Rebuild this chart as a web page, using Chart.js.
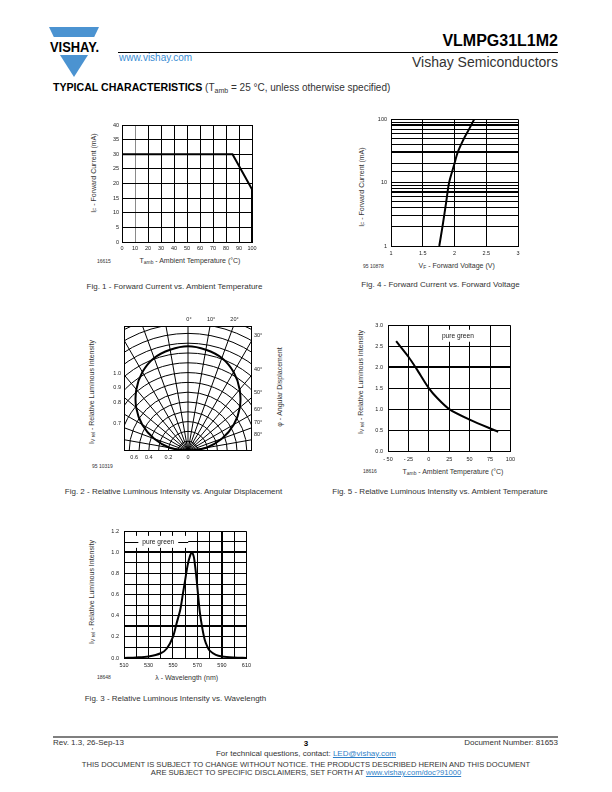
<!DOCTYPE html>
<html><head><meta charset="utf-8">
<script src="https://cdn.jsdelivr.net/npm/chart.js@4.4.1/dist/chart.umd.min.js"></script>
<style>
body{margin:0;background:#fff;}
#page{position:relative;width:612px;height:792px;overflow:hidden;font-family:"Liberation Sans",Arial,sans-serif;color:#000;}
.t{position:absolute;white-space:nowrap;line-height:1;font-weight:400;}
.g{color:#333;}
.c{transform:translateX(-50%);}
.r{transform:translateX(-100%);}
.rot{transform:translate(-50%,-50%) rotate(-90deg);}
canvas{position:absolute;}
.sb{font-size:70%;vertical-align:-0.3em;line-height:0;}
a{color:#2f7fc8;text-decoration:underline;}
</style></head>
<body>
<div id="page">
<svg width="612" height="792" style="position:absolute;left:0;top:0">
 <polygon points="49,27 99,27 94.2,37 53.8,37" fill="#4b93d1"/>
 <polygon points="60,55 88,55 74,77" fill="#4b93d1"/>
 <text x="50" y="52" font-family="Liberation Sans" font-weight="bold" font-size="14" textLength="49" lengthAdjust="spacingAndGlyphs">VISHAY.</text>
 <line x1="118" y1="52.5" x2="558" y2="52.5" stroke="#000" stroke-width="1"/>
 <line x1="53" y1="737" x2="558" y2="737" stroke="#000" stroke-width="1.2"/>
</svg>

<div class="t" style="right:54px;top:33px;font-size:16px;font-weight:bold;">VLMPG31L1M2</div>
<div class="t g" style="right:54px;top:55px;font-size:14px;">Vishay Semiconductors</div>
<div class="t" style="left:119px;top:53px;font-size:10px;color:#3a8dd4;">www.vishay.com</div>
<div class="t" style="left:53px;top:82px;font-size:10px;"><b style="font-size:10.6px;">TYPICAL CHARACTERISTICS</b> <span class="g">(T<span class="sb">amb</span> = 25 °C, unless otherwise specified)</span></div>

<!-- Fig 1 texts -->
<div class="t c g" style="left:190px;top:256.5px;font-size:7px;">T<span class="sb">amb</span> - Ambient Temperature (°C)</div>
<div class="t rot g" style="left:92.7px;top:173px;font-size:7px;">I<span class="sb">F</span> - Forward Current (mA)</div>
<div class="t g" style="left:97px;top:258.5px;font-size:5px;">16615</div>
<div class="t c g" style="left:174.5px;top:283px;font-size:8px;">Fig. 1 - Forward Current vs. Ambient Temperature</div>

<!-- Fig 4 texts -->
<div class="t c g" style="left:456.7px;top:261.5px;font-size:7px;">V<span class="sb">F</span> - Forward Voltage (V)</div>
<div class="t rot g" style="left:361px;top:187px;font-size:7px;">I<span class="sb">F</span> - Forward Current (mA)</div>
<div class="t g" style="left:363px;top:263.5px;font-size:5px;">95 10878</div>
<div class="t c g" style="left:440.5px;top:281px;font-size:8px;">Fig. 4 - Forward Current vs. Forward Voltage</div>

<!-- Fig 2 texts -->
<div class="t rot g" style="left:90.7px;top:391.7px;font-size:7px;">I<span class="sb">V rel</span> - Relative Luminous Intensity</div>
<div class="t rot g" style="left:279px;top:386.7px;font-size:7px;">φ - Angular Displacement</div>
<div class="t g" style="left:92px;top:463.5px;font-size:5px;">95 10319</div>
<div class="t c g" style="left:173.5px;top:488px;font-size:8px;">Fig. 2 - Relative Luminous Intensity vs. Angular Displacement</div>

<!-- Fig 5 texts -->
<div class="t c g" style="left:453px;top:468.2px;font-size:7px;">T<span class="sb">amb</span> - Ambient Temperature (°C)</div>
<div class="t rot g" style="left:360px;top:382px;font-size:7px;">I<span class="sb">V rel</span> - Relative Luminous Intensity</div>
<div class="t g" style="left:363px;top:468.5px;font-size:5px;">18616</div>
<div class="t c g" style="left:440px;top:488px;font-size:8px;">Fig. 5 - Relative Luminous Intensity vs. Ambient Temperature</div>

<!-- Fig 3 texts -->
<div class="t c g" style="left:186.7px;top:674.2px;font-size:7px;">λ - Wavelength (nm)</div>
<div class="t rot g" style="left:91px;top:592px;font-size:7px;">I<span class="sb">V rel</span> - Relative Luminous Intensity</div>
<div class="t g" style="left:97px;top:674.5px;font-size:5px;">18648</div>
<div class="t c g" style="left:175.5px;top:695px;font-size:8px;">Fig. 3 - Relative Luminous Intensity vs. Wavelength</div>

<!-- Footer -->
<div class="t g" style="left:53px;top:739px;font-size:8px;">Rev. 1.3, 26-Sep-13</div>
<div class="t c" style="left:306px;top:740px;font-size:8px;font-weight:bold;">3</div>
<div class="t g" style="right:54px;top:739px;font-size:8px;">Document Number: 81653</div>
<div class="t c g" style="left:306px;top:750px;font-size:8px;">For technical questions, contact: <a>LED@vishay.com</a></div>
<div class="t c g" style="left:306px;top:761px;font-size:7.6px;">THIS DOCUMENT IS SUBJECT TO CHANGE WITHOUT NOTICE. THE PRODUCTS DESCRIBED HEREIN AND THIS DOCUMENT</div>
<div class="t c g" style="left:306px;top:769px;font-size:7.6px;">ARE SUBJECT TO SPECIFIC DISCLAIMERS, SET FORTH AT <a>www.vishay.com/doc?91000</a></div>

<canvas id="fig1" width="165" height="137" style="left:95px;top:118px;"></canvas>
<canvas id="fig4" width="168" height="146" style="left:358px;top:112px;"></canvas>
<canvas id="fig2" width="215" height="165" style="left:85px;top:310px;"></canvas>
<canvas id="fig5" width="165" height="148" style="left:355px;top:317px;"></canvas>
<canvas id="fig3" width="160" height="148" style="left:95px;top:523px;"></canvas>
</div>

<script>
// ---------- DATA ----------
// Fig. 1 - Forward current vs. ambient temperature
const fig1Temp = [0, 85, 100, 100];
const fig1Current = [30, 30, 18, 0];

// Fig. 4 - Forward current vs. forward voltage
const fig4Voltage = [1.76, 1.81, 1.87, 1.915, 2.0, 2.05, 2.15, 2.23, 2.31];
const fig4Current = [1, 2, 5, 10, 20, 30, 50, 70, 100];
const fig4YLabels = [1, 10, 100];
const fig4XLabels = ['1', '1.5', '2', '2.5', '3'];

// Fig. 2 - Relative luminous intensity vs. angular displacement
const fig2Angles = [-90, -80, -70, -60, -50, -40, -30, -20, -10, 0, 10, 20, 30, 40, 50, 60, 70, 80, 90];
const fig2Intensity = [0, 0.19, 0.37, 0.54, 0.69, 0.82, 0.93, 1.01, 1.05, 1.07, 1.05, 1.01, 0.93, 0.82, 0.69, 0.54, 0.37, 0.19, 0];
const fig2Rings = [0.1, 0.2, 0.3, 0.4, 0.5, 0.6, 0.7, 0.8, 0.9, 1.0, 1.1, 1.2, 1.3, 1.4, 1.5];
const fig2Spokes = [-90, -80, -70, -60, -50, -40, -30, -20, -10, 0, 10, 20, 30, 40, 50, 60, 70, 80, 90];
const fig2RingLabels = [1.0, 0.9, 0.8, 0.7];
const fig2BottomLabels = [0.6, 0.4, 0.2, 0];
const fig2AngleLabels = [0, 10, 20, 30, 40, 50, 60, 70, 80];

// Fig. 5 - Relative luminous intensity vs. ambient temperature
const fig5Temp = [-40, -25, -15, 0, 10, 25, 50, 85];
const fig5Intensity = [2.62, 2.25, 1.96, 1.5, 1.27, 1.0, 0.75, 0.46];
const fig5XLabels = ['- 50', '- 25', '0', '25', '50', '75', '100'];

// Fig. 3 - Relative luminous intensity vs. wavelength
const fig3Wavelength = [510, 520, 530, 540, 545, 550, 553, 556, 558, 560, 562, 564, 565.5, 567, 568, 569, 570, 571, 572, 574, 576, 578, 580, 585, 590, 600, 610];
const fig3Intensity = [0, 0.005, 0.015, 0.045, 0.09, 0.2, 0.33, 0.46, 0.6, 0.74, 0.88, 0.97, 1.0, 0.96, 0.88, 0.78, 0.66, 0.54, 0.43, 0.28, 0.17, 0.11, 0.07, 0.03, 0.015, 0.005, 0];
const fig3XLabels = [510, 530, 550, 570, 590, 610];

const seriesLabel = 'pure green';

// ---------- HELPERS ----------
Chart.defaults.font.family = '"Liberation Sans", Arial, sans-serif';
Chart.defaults.color = '#000';
const TICK_FONT = {size: 5.5};
const near = (a, b) => Math.abs(a - b) < 1e-6;

function axis(o) {
  return {
    type: o.type || 'linear', min: o.min, max: o.max,
    ticks: {stepSize: o.step, autoSkip: false, maxRotation: 0, padding: o.pad, font: TICK_FONT, color: '#222',
            callback: o.cb, includeBounds: true},
    grid: {color: o.gridColor || '#000', lineWidth: o.gridWidth || 1, drawTicks: false},
    border: {display: true, color: '#000', width: 1},
    afterFit: s => { if (s.isHorizontal()) s.height = o.size; else s.width = o.size; }
  };
}
function lineDS(xs, ys, tension) {
  return {data: xs.map((x, i) => ({x, y: ys[i]})), borderColor: '#000', borderWidth: 2,
          pointRadius: 0, showLine: true, tension: tension || 0, fill: false};
}
const baseOpts = (pad) => ({
  responsive: false, animation: false, events: [],
  layout: {padding: pad},
  plugins: {legend: {display: false}, tooltip: {enabled: false}}
});
function boxLabel(xv, yv, coverLine) {
  return {
    id: 'boxLabel',
    beforeDatasetsDraw(chart) {
      const {ctx, chartArea: a, scales: {x, y}} = chart;
      ctx.save();
      ctx.font = '6.6px "Liberation Sans", Arial, sans-serif';
      const w = ctx.measureText(seriesLabel).width;
      const px = x.getPixelForValue(xv), py = y.getPixelForValue(yv);
      ctx.fillStyle = '#fff';
      if (coverLine) {
        const L = a.left + 1, R = px + w / 2 + 14;
        ctx.fillRect(L, py - 6, R - L, 12);
        ctx.strokeStyle = '#000'; ctx.lineWidth = 1;
        ctx.beginPath(); ctx.moveTo(L, Math.round(py) + 0.5); ctx.lineTo(R, Math.round(py) + 0.5); ctx.stroke();
        ctx.fillRect(px - w / 2 - 4, py - 5, w + 8, 10);
      } else {
        ctx.fillRect(px - w / 2 - 3, py - 6, w + 6, 12);
      }
      ctx.fillStyle = '#222'; ctx.textAlign = 'center'; ctx.textBaseline = 'middle';
      ctx.fillText(seriesLabel, px, py);
      ctx.restore();
    }
  };
}

// ---------- FIG 1 ----------
new Chart(document.getElementById('fig1'), {
  type: 'scatter',
  data: {datasets: [lineDS(fig1Temp, fig1Current)]},
  options: Object.assign(baseOpts({left: 0, top: 7, right: 8, bottom: 0}), {
    scales: {
      x: axis({min: 0, max: 100, step: 10, pad: 3, size: 13,
               gridColor: c => (c.tick && c.tick.value === 10) ? '#8a8a8a' : '#000'}),
      y: axis({min: 0, max: 40, step: 5, pad: 3, size: 27})
    }
  })
});

// ---------- FIG 4 ----------
new Chart(document.getElementById('fig4'), {
  type: 'scatter',
  data: {datasets: [lineDS(fig4Voltage, fig4Current, 0.3)]},
  options: Object.assign(baseOpts({left: 0, top: 7, right: 8, bottom: 0}), {
    scales: {
      x: axis({min: 1, max: 3, step: 0.5, pad: 4, size: 12, cb: (v, i) => fig4XLabels[i]}),
      y: axis({type: 'logarithmic', min: 1, max: 100, pad: 4, size: 33,
               cb: v => fig4YLabels.includes(v) ? String(v) : '',
               gridWidth: c => (c.tick && [7, 30, 80].includes(c.tick.value)) ? 2 : 1})
    }
  })
});

// ---------- FIG 2 (polar) ----------
const polarPlugin = {
  id: 'polar',
  beforeDatasetsDraw(chart) {
    const {ctx, chartArea: a, scales: {x, y}} = chart;
    const cx = x.getPixelForValue(0), cy = y.getPixelForValue(0);
    const unit = x.getPixelForValue(1) - cx;
    ctx.save();
    ctx.beginPath(); ctx.rect(a.left, a.top, a.width, a.height); ctx.clip();
    ctx.strokeStyle = '#000'; ctx.lineWidth = 1;
    fig2Rings.forEach(r => { ctx.beginPath(); ctx.arc(cx, cy, r * unit, Math.PI, 2 * Math.PI); ctx.stroke(); });
    fig2Spokes.forEach(d => {
      const t = d * Math.PI / 180;
      ctx.beginPath(); ctx.moveTo(cx, cy);
      ctx.lineTo(cx + Math.sin(t) * 3 * unit, cy - Math.cos(t) * 3 * unit); ctx.stroke();
    });
    ctx.restore();
    ctx.save(); ctx.strokeStyle = '#000'; ctx.lineWidth = 1;
    ctx.strokeRect(Math.round(a.left) + 0.5, Math.round(a.top) + 0.5, Math.round(a.width) - 1, Math.round(a.height) - 1);
    ctx.restore();
  },
  afterDraw(chart) {
    const {ctx, chartArea: a, scales: {x, y}} = chart;
    ctx.save();
    ctx.font = '5.5px "Liberation Sans", Arial, sans-serif';
    ctx.fillStyle = '#222';
    ctx.textAlign = 'right'; ctx.textBaseline = 'middle';
    fig2RingLabels.forEach(v => {
      const h = Math.sqrt(v * v - x.min * x.min);
      ctx.fillText(v.toFixed(1), a.left - 3, y.getPixelForValue(h) - 3);
    });
    ctx.textAlign = 'center'; ctx.textBaseline = 'top';
    fig2BottomLabels.forEach(v => ctx.fillText(v === 0 ? '0' : v.toFixed(1), x.getPixelForValue(-v) + (v > 0.5 ? 5 : 0), a.bottom + 4));
    fig2AngleLabels.forEach(d => {
      const t = d * Math.PI / 180, s = Math.sin(t), c = Math.cos(t);
      const sTop = c > 1e-9 ? y.max / c : Infinity;
      const sRight = s > 1e-9 ? x.max / s : Infinity;
      if (sTop <= sRight) {
        ctx.textAlign = 'center'; ctx.textBaseline = 'bottom';
        ctx.fillText(d + '°', x.getPixelForValue(sTop * s) + 1, a.top - 4);
      } else {
        ctx.textAlign = 'left'; ctx.textBaseline = 'middle';
        const py = Math.max(a.top + 2, y.getPixelForValue(sRight * c) - 5);
        ctx.fillText(d + '°', a.right + 2, py);
      }
    });
    ctx.restore();
  }
};
const fig2Points = fig2Angles.map((d, i) => ({
  x: fig2Intensity[i] * Math.sin(d * Math.PI / 180),
  y: fig2Intensity[i] * Math.cos(d * Math.PI / 180)
}));
new Chart(document.getElementById('fig2'), {
  type: 'scatter',
  data: {datasets: [{data: fig2Points, borderColor: '#000', borderWidth: 2, pointRadius: 0, showLine: true, tension: 0.4, fill: false}]},
  options: Object.assign(baseOpts({left: 39, top: 16, right: 48, bottom: 24}), {
    scales: {
      x: {type: 'linear', display: false, min: -0.653, max: 0.653},
      y: {type: 'linear', display: false, min: 0, max: 1.276}
    }
  }),
  plugins: [polarPlugin]
});

// ---------- FIG 5 ----------
new Chart(document.getElementById('fig5'), {
  type: 'scatter',
  data: {datasets: [lineDS(fig5Temp, fig5Intensity, 0.3)]},
  options: Object.assign(baseOpts({left: 0, top: 7, right: 7, bottom: 0}), {
    scales: {
      x: axis({min: -50, max: 100, step: 25, pad: 5, size: 14, cb: (v, i) => fig5XLabels[i]}),
      y: axis({min: 0, max: 3, step: 0.5, pad: 5, size: 33, cb: v => v.toFixed(1),
               gridWidth: c => (c.tick && near(c.tick.value, 2)) ? 2 : 1})
    }
  }),
  plugins: [boxLabel(35.6, 2.75, false)]
});

// ---------- FIG 3 ----------
new Chart(document.getElementById('fig3'), {
  type: 'scatter',
  data: {datasets: [lineDS(fig3Wavelength, fig3Intensity, 0.3)]},
  options: Object.assign(baseOpts({left: 0, top: 7, right: 7, bottom: 0}), {
    scales: {
      x: axis({min: 510, max: 610, step: 10, pad: 4, size: 13,
               cb: v => fig3XLabels.includes(v) ? String(v) : '',
               gridWidth: c => (c.tick && near(c.tick.value, 590)) ? 2 : 1}),
      y: axis({min: 0, max: 1.2, step: 0.1, pad: 5, size: 29,
               cb: v => (Math.round(v * 10) % 2 === 0) ? v.toFixed(1) : '',
               gridWidth: c => (c.tick && (near(c.tick.value, 1.0) || near(c.tick.value, 0.3))) ? 2 : 1})
    }
  }),
  plugins: [boxLabel(538, 1.1, true)]
});
</script>
</body></html>
